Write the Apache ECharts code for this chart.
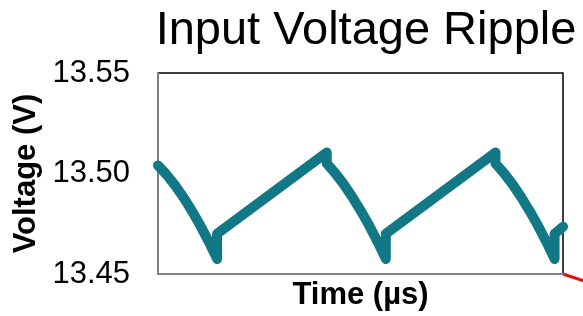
<!DOCTYPE html>
<html>
<head>
<meta charset="utf-8">
<script src="https://cdn.jsdelivr.net/npm/echarts@6/dist/echarts.min.js"></script>
<style>
html,body{margin:0;padding:0;background:#fff;}
#chart{width:583px;height:316px;}
</style>
</head>
<body>
<div id="chart"></div>
<script>
// Data
const titleText = "Input Voltage Ripple";
const xAxisName = "Time (µs)";
const yAxisName = "Voltage (V)";
const yTicks = [13.45, 13.50, 13.55];
const timeUs = [
  0, 0.25, 0.5, 0.75, 1.0, 1.25, 1.5, 1.75,
  1.75, 5.0,
  5.0, 5.25, 5.5, 5.75, 6.0, 6.25, 6.5, 6.75,
  6.75, 10.0,
  10.0, 10.25, 10.5, 10.75, 11.0, 11.25, 11.5, 11.75,
  11.75, 12.0
];
const voltage = [
  13.504, 13.4995, 13.4942, 13.4882, 13.4815, 13.4742, 13.4662, 13.4575,
  13.4700, 13.5105,
  13.5050, 13.5002, 13.4947, 13.4885, 13.4817, 13.4743, 13.4662, 13.4575,
  13.4700, 13.5105,
  13.5050, 13.5002, 13.4947, 13.4885, 13.4817, 13.4743, 13.4662, 13.4575,
  13.4700, 13.4735
];

const seriesData = timeUs.map((t, i) => [t, voltage[i]]);
const chart = echarts.init(document.getElementById('chart'), null, {renderer: 'canvas'});
const FONT = 'Liberation Sans, Arial, sans-serif';
chart.setOption({
  animation: false,
  backgroundColor: '#ffffff',
  title: {
    text: titleText,
    left: 361, top: 3,
    textAlign: 'center',
    textStyle: {fontFamily: FONT, fontSize: 47, fontWeight: 'normal', color: '#000'}
  },
  grid: {
    left: 158, top: 73, right: 20, bottom: 42,
    show: true, borderColor: '#000', borderWidth: 1.5, backgroundColor: 'transparent'
  },
  xAxis: {
    type: 'value', min: 0, max: 12,
    name: xAxisName, nameLocation: 'middle', nameGap: 6,
    nameTextStyle: {fontFamily: FONT, fontSize: 31, fontWeight: 'bold', color: '#000', verticalAlign: 'top'},
    axisLine: {show: true, lineStyle: {color: '#808080', width: 2}},
    axisTick: {show: false}, axisLabel: {show: false}, splitLine: {show: false}
  },
  yAxis: {
    type: 'value', min: yTicks[0], max: yTicks[yTicks.length - 1], interval: 0.05,
    name: yAxisName, nameLocation: 'middle', nameGap: 110, nameRotate: 90,
    nameTextStyle: {fontFamily: FONT, fontSize: 31, fontWeight: 'bold', color: '#000'},
    axisLine: {show: true, lineStyle: {color: '#808080', width: 2}},
    axisTick: {show: false}, splitLine: {show: false},
    axisLabel: {
      margin: 28, fontFamily: FONT, fontSize: 31, color: '#000',
      formatter: v => v.toFixed(2)
    }
  },
  series: [{
    type: 'line', data: seriesData, showSymbol: false, symbol: 'none',
    lineStyle: {color: '#137886', width: 10, cap: 'round', join: 'round'},
    clip: true
  }],
  graphic: [{
    type: 'line', shape: {x1: 563, y1: 274, x2: 590, y2: 283},
    style: {stroke: '#e01010', lineWidth: 3}
  }]
});
</script>
</body>
</html>
